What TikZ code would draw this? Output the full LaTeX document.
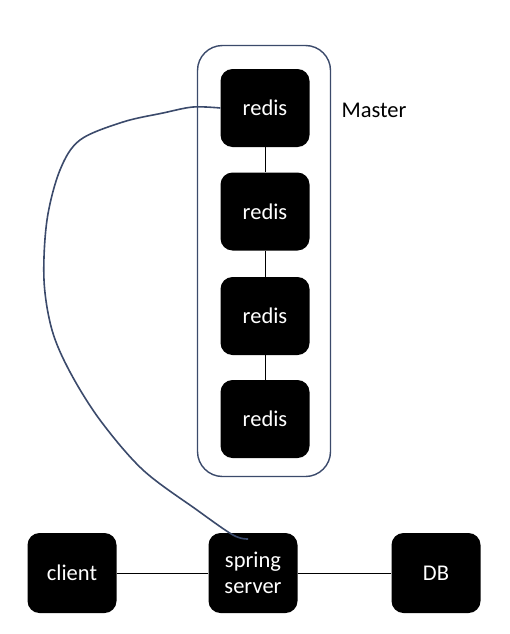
\documentclass[tikz,border=0pt]{standalone}
\usepackage{fontspec}
\setmainfont{Carlito}
\definecolor{navy}{HTML}{3B4A6B}
\begin{document}
\begin{tikzpicture}[x=1pt,y=-1pt,
  blackbox/.style={fill=black,rounded corners=12pt,minimum width=89pt,minimum height=78pt,
    text=white,font=\fontsize{22.5}{26}\selectfont,align=center,inner sep=0pt},
  link/.style={draw=black,line width=0.8pt},
  wire/.style={draw=navy,line width=1.6pt}]
\useasboundingbox (0,0) rectangle (509,634);
\node[draw=navy,line width=1.4pt,rounded corners=25pt,minimum width=133pt,minimum height=431pt] (grp) at (264,261) {};
\node[blackbox] (r1) at (265,108) {redis};
\node[blackbox] (r2) at (265,211.5) {redis};
\node[blackbox] (r3) at (265,316) {redis};
\node[blackbox] (r4) at (265,419) {redis};
\node[font=\fontsize{22.5}{26}\selectfont,anchor=west] (m) at (338,110) {Master};
\node[blackbox,minimum height=80pt] (cl) at (72,573) {client};
\node[blackbox,minimum height=80pt] (sp) at (253,573) {spring\\server};
\node[blackbox,minimum height=80pt] (db) at (436,573) {DB};
\draw[link] (r1) -- (r2);
\draw[link] (r2) -- (r3);
\draw[link] (r3) -- (r4);
\draw[link] (cl) -- (sp);
\draw[link] (sp) -- (db);
\coordinate (e) at (248,539);
\draw[wire] plot[smooth,tension=0.55] coordinates {(r1.west) (193,107) (163,113) (123,122) (80,140) (60,170) (47,220) (44,280) (52,330) (70,372) (100,420) (143,470) (197,510) (233,535) (e)};
\end{tikzpicture}
\end{document}
